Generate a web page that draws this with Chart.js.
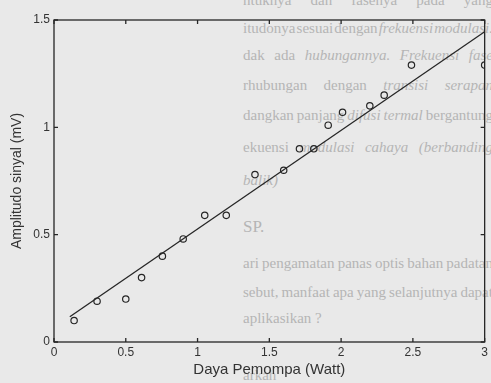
<!DOCTYPE html>
<html>
<head>
<meta charset="utf-8">
<script src="https://cdn.jsdelivr.net/npm/chart.js@4.4.0/dist/chart.umd.min.js"></script>
<style>
html,body{margin:0;padding:0;width:491px;height:383px;overflow:hidden;background:#e9e9e9;}
#bg{position:absolute;left:243px;top:0;width:248px;height:383px;overflow:hidden;font-family:"Liberation Serif",serif;font-size:15px;color:#b5b5b5;}
#bg .row{position:absolute;left:0;width:250px;height:18px;line-height:18px;display:flex;justify-content:space-between;white-space:nowrap;}
#bg i{font-style:italic;}
#wrap{position:absolute;left:0;top:0;width:491px;height:383px;}
</style>
</head>
<body>
<div id="bg">
  <div class="row" style="top:-9px"><span>ntuknya</span><span>dan</span><span>fasenya</span><span>pada</span><span>yang</span></div>
  <div class="row" style="top:19px"><span>itudonya</span><span>sesuai</span><span>dengan</span><span><i>frekuensi</i></span><span><i>modulasi.</i></span></div>
  <div class="row" style="top:46px"><span>dak</span><span>ada</span><span><i>hubungannya.</i></span><span><i>Frekuensi</i></span><span><i>fase</i></span></div>
  <div class="row" style="top:76px"><span>rhubungan</span><span>dengan</span><span><i>transisi</i></span><span><i>serapan</i></span></div>
  <div class="row" style="top:106px"><span>dangkan</span><span>panjang</span><span><i>difusi</i></span><span><i>termal</i></span><span>bergantung</span></div>
  <div class="row" style="top:138px"><span>ekuensi</span><span><i>modulasi</i></span><span><i>cahaya</i></span><span><i>(berbanding</i></span></div>
  <div class="row" style="top:171px;width:auto"><span><i>balik)</i></span></div>
  <div class="row" style="top:218px;width:auto;font-size:17px"><span>SP.</span></div>
  <div class="row" style="top:254px"><span>ari</span><span>pengamatan</span><span>panas</span><span>optis</span><span>bahan</span><span>padatan</span></div>
  <div class="row" style="top:283px"><span>sebut,</span><span>manfaat</span><span>apa</span><span>yang</span><span>selanjutnya</span><span>dapat</span></div>
  <div class="row" style="top:309px;width:auto"><span>aplikasikan ?</span></div>
  <div class="row" style="top:366px;width:auto"><span>arkah</span></div>
</div>
<div id="wrap"><canvas id="c" width="491" height="383"></canvas></div>
<script>
const powerW      = [0.14, 0.30, 0.50, 0.61, 0.755, 0.90, 1.05, 1.20, 1.40, 1.60, 1.71, 1.81, 1.91, 2.01, 2.20, 2.30, 2.49, 3.00];
const amplitudeMV = [0.10, 0.19, 0.20, 0.30, 0.40, 0.48, 0.59, 0.59, 0.78, 0.80, 0.90, 0.90, 1.01, 1.07, 1.10, 1.15, 1.29, 1.29];
// Fitted straight line end points
const fitX = [0.11, 3.0];
const fitY = [0.118, 1.445];
// Axis ticks
const xTicks = [0, 0.5, 1, 1.5, 2, 2.5, 3];
const yTicks = [0, 0.5, 1, 1.5];
const xTitle = 'Daya Pemompa (Watt)';
const yTitle = 'Amplitudo sinyal (mV)';

const ink = '#262626';
const measured = powerW.map((x, i) => ({x, y: amplitudeMV[i]}));
const fitted = fitX.map((x, i) => ({x, y: fitY[i]}));

const framePlugin = {
  id: 'frame',
  afterDatasetsDraw(chart) {
    const {ctx, chartArea: a, scales: {x, y}} = chart;
    ctx.save();
    ctx.strokeStyle = ink;
    ctx.lineWidth = 1.3;
    ctx.strokeRect(a.left, a.top, a.right - a.left, a.bottom - a.top);
    const L = 4;
    ctx.beginPath();
    x.ticks.forEach(t => {
      const p = x.getPixelForValue(t.value);
      ctx.moveTo(p, a.bottom); ctx.lineTo(p, a.bottom - L);
      ctx.moveTo(p, a.top); ctx.lineTo(p, a.top + L);
    });
    y.ticks.forEach(t => {
      const p = y.getPixelForValue(t.value);
      ctx.moveTo(a.left, p); ctx.lineTo(a.left + L, p);
      ctx.moveTo(a.right, p); ctx.lineTo(a.right - L, p);
    });
    ctx.stroke();
    ctx.restore();
  }
};

const tickFont = {family: '"Liberation Sans", Arial, sans-serif', size: 12};
const titleFont = {family: '"Liberation Sans", Arial, sans-serif', size: 14};
const xTitleFont = {family: '"Liberation Sans", Arial, sans-serif', size: 15};

new Chart(document.getElementById('c'), {
  type: 'scatter',
  data: {
    datasets: [
      {
        label: 'fit',
        data: fitted,
        showLine: true,
        borderColor: ink,
        borderWidth: 1.3,
        pointRadius: 0,
        fill: false,
        clip: 0
      },
      {
        label: 'data',
        data: measured,
        showLine: false,
        pointStyle: 'circle',
        pointRadius: 3.2,
        pointBorderWidth: 1.2,
        pointBorderColor: ink,
        pointBackgroundColor: 'rgba(0,0,0,0)',
        clip: 0
      }
    ]
  },
  options: {
    responsive: false,
    animation: false,
    events: [],
    layout: {padding: {top: 20, right: 3, left: 0, bottom: 0}},
    plugins: {legend: {display: false}, tooltip: {enabled: false}},
    scales: {
      x: {
        type: 'linear', min: 0, max: 3,
        afterBuildTicks: s => { s.ticks = xTicks.map(v => ({value: v})); },
        afterFit: s => { s.height = 41; },
        grid: {display: false, drawTicks: false},
        border: {display: false},
        ticks: {color: '#333', font: tickFont, padding: 3, maxRotation: 0,
                callback: v => String(v)},
        title: {display: true, text: xTitle, color: '#333', font: xTitleFont, padding: {top: 0, bottom: 4}}
      },
      y: {
        type: 'linear', min: 0, max: 1.5,
        afterBuildTicks: s => { s.ticks = yTicks.map(v => ({value: v})); },
        afterFit: s => { s.width = 54; },
        grid: {display: false, drawTicks: false},
        border: {display: false},
        ticks: {color: '#333', font: tickFont, padding: 4,
                callback: v => String(v)},
        title: {display: true, text: yTitle, color: '#333', font: titleFont, padding: {top: 9, bottom: 0}}
      }
    }
  },
  plugins: [framePlugin]
});
</script>
</body>
</html>
